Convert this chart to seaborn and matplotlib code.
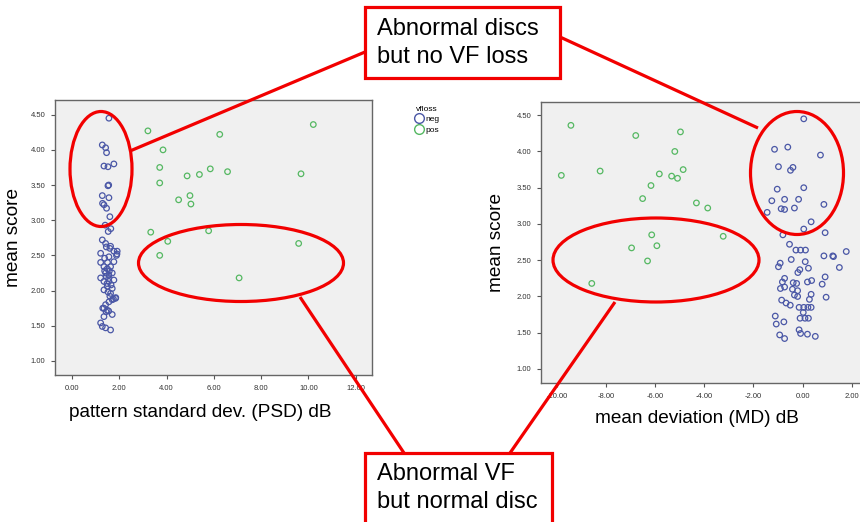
import numpy as np
import pandas as pd
import matplotlib
matplotlib.use("Agg")
import matplotlib.pyplot as plt
import seaborn as sns
from matplotlib.patches import Ellipse, Rectangle
from matplotlib.lines import Line2D

# ---- data ----
# left panel: pattern standard deviation vs mean score
psd_neg = [1.56, 1.28, 1.42, 1.46, 1.35, 1.52, 1.77, 1.52, 1.55, 1.28, 1.56, 1.35, 1.46, 1.29,
           1.60, 1.40, 1.64, 1.53,
           1.28, 1.42, 1.63, 1.77, 1.91, 1.21, 1.38, 1.56, 1.77, 1.21, 1.35, 1.49, 1.63, 1.42,
           1.56, 1.70, 1.21, 1.35, 1.56, 1.77, 1.49, 1.70, 1.35, 1.63, 1.84, 1.70, 1.56, 1.42,
           1.35, 1.49, 1.70, 1.35, 1.21, 1.28, 1.42, 1.63,
           1.90, 1.88, 1.45, 1.60, 1.50, 1.45, 1.55, 1.65, 1.52, 1.60, 1.75, 1.44, 1.55, 1.30,
           1.38, 1.58, 1.48, 1.85]
score_psd_neg = [4.45, 4.07, 4.03, 3.96, 3.77, 3.76, 3.80, 3.49, 3.50, 3.35, 3.32, 3.22, 3.17, 3.24,
                 3.05, 2.93, 2.88, 2.84,
                 2.72, 2.67, 2.63, 2.56, 2.56, 2.53, 2.46, 2.48, 2.41, 2.40, 2.34, 2.31, 2.34, 2.25,
                 2.22, 2.25, 2.18, 2.13, 2.13, 2.15, 2.06, 2.03, 2.01, 1.96, 1.89, 1.87, 1.84, 1.80,
                 1.75, 1.72, 1.66, 1.63, 1.54, 1.49, 1.47, 1.44,
                 2.52, 2.50, 2.62, 2.60, 2.40, 2.20, 2.17, 2.08, 1.98, 1.92, 1.88, 1.70, 1.71, 1.75,
                 2.28, 2.28, 2.10, 1.90]
psd_pos = [3.21, 6.25, 10.21, 3.85, 3.71, 5.85, 6.58, 5.39, 4.87, 9.69, 3.71, 4.51, 4.99, 5.03,
           3.33, 5.78, 4.05, 9.59, 3.71, 7.07]
score_psd_pos = [4.27, 4.22, 4.36, 4.00, 3.75, 3.73, 3.69, 3.65, 3.63, 3.66, 3.53, 3.29, 3.35, 3.23,
                 2.83, 2.85, 2.70, 2.67, 2.50, 2.18]

# right panel: mean deviation vs mean score
md_neg = [0.05, -1.14, -0.60, 0.73, -0.98, -0.49, -0.39, -1.03, 0.05, -1.25, -0.73, -0.16, 0.87,
          -1.44, -0.87, -0.73, -0.33, 0.35, 0.05,
          0.92, -0.80, -0.53, -0.27, -0.08, 0.12, 0.87, 1.23, 1.26, 1.78, -0.46, 0.11, -0.91, -0.98,
          -0.11, -0.19, 0.24, 1.50, 0.92, -0.73, -0.82, -0.38, -0.24, 0.20, 0.37, 0.80, -0.90, -0.73,
          -0.41, -0.20, 0.35, -0.33, -0.20, 0.96, 0.28, -0.85, -0.67, -0.50, -0.14, 0.05, 0.22, 0.35,
          0.03, -0.10, 0.10, 0.24, -1.11, -1.07, -0.76, -0.14, -0.08, 0.20, 0.52, -0.93, -0.73]
score_md_neg = [4.45, 4.03, 4.06, 3.95, 3.79, 3.74, 3.78, 3.48, 3.50, 3.32, 3.34, 3.34, 3.27,
                3.16, 3.21, 3.20, 3.22, 3.03, 2.93,
                2.88, 2.85, 2.72, 2.64, 2.64, 2.64, 2.56, 2.56, 2.55, 2.62, 2.51, 2.48, 2.46, 2.41,
                2.37, 2.33, 2.39, 2.40, 2.27, 2.25, 2.20, 2.19, 2.18, 2.20, 2.22, 2.17, 2.11, 2.13,
                2.10, 2.08, 2.03, 2.02, 2.00, 1.99, 1.96, 1.95, 1.91, 1.88, 1.85, 1.85, 1.85, 1.85,
                1.78, 1.70, 1.70, 1.70, 1.73, 1.62, 1.65, 1.54, 1.49, 1.48, 1.45, 1.47, 1.42]
md_pos = [-9.43, -9.82, -6.79, -4.97, -5.20, -8.24, -4.86, -5.83, -5.33, -5.09, -6.17, -6.51,
          -4.32, -3.86, -6.14, -3.23, -5.93, -6.96, -6.31, -8.58]
score_md_pos = [4.36, 3.67, 4.22, 4.27, 4.00, 3.73, 3.75, 3.69, 3.66, 3.63, 3.53, 3.35,
                3.29, 3.22, 2.85, 2.83, 2.70, 2.67, 2.49, 2.18]

groups = ['neg', 'pos']
colors = {'neg': '#4a57a6', 'pos': '#55b862'}
yticks = [1.0, 1.5, 2.0, 2.5, 3.0, 3.5, 4.0, 4.5]
psd_ticks = [0, 2, 4, 6, 8, 10, 12]
md_ticks = [-10, -8, -6, -4, -2, 0, 2]

left = pd.DataFrame({'x': psd_neg + psd_pos, 'score': score_psd_neg + score_psd_pos,
                     'vfloss': ['neg'] * len(psd_neg) + ['pos'] * len(psd_pos)})
right = pd.DataFrame({'x': md_neg + md_pos, 'score': score_md_neg + score_md_pos,
                      'vfloss': ['neg'] * len(md_neg) + ['pos'] * len(md_pos)})

sns.set_style('white')
plt.rcParams['font.family'] = ['Liberation Sans', 'DejaVu Sans']
plt.rcParams['text.color'] = 'black'
plt.rcParams['axes.labelcolor'] = 'black'

fig = plt.figure(figsize=(8.6, 5.22), dpi=100)
ax1 = fig.add_axes([0.064, 0.2816, 0.369, 0.527])
ax2 = fig.add_axes([0.629, 0.2663, 0.391, 0.538])


def spss_scatter(ax, df, xlim, ylim, xticks, xlabel, xlab_pos, ylab_x):
    sns.scatterplot(data=df, x='x', y='score', hue='vfloss', hue_order=groups,
                    palette=colors, s=16, legend=False, ax=ax)
    # hollow circles like SPSS
    coll = ax.collections[0]
    coll.set_edgecolors(coll.get_facecolors())
    coll.set_facecolors('none')
    coll.set_linewidths(0.9)
    ax.set_facecolor('#f0f0f0')
    ax.set_xlim(*xlim)
    ax.set_ylim(*ylim)
    ax.set_xticks(xticks)
    ax.set_yticks(yticks)
    ax.set_xticklabels([f'{t:.2f}' for t in xticks])
    ax.set_yticklabels([f'{t:.2f}' for t in yticks])
    ax.tick_params(axis='both', direction='out', length=3, width=0.8, color='#555555',
                   labelsize=5.5, labelcolor='#333333', pad=4, bottom=True, left=True)
    for sp in ax.spines.values():
        sp.set_color('#666666')
        sp.set_linewidth(1.0)
    ax.set_xlabel(xlabel, fontsize=13.7)
    ax.set_ylabel('mean score', fontsize=13.7)
    ax.xaxis.set_label_coords(*xlab_pos)
    ax.yaxis.set_label_coords(ylab_x, 0.5)


spss_scatter(ax1, left, (-0.72, 12.71), (0.80, 4.71), psd_ticks,
             'pattern standard dev. (PSD) dB', (0.457, -0.105), -0.104)
spss_scatter(ax2, right, (-10.65, 3.04), (0.807, 4.68), md_ticks,
             'mean deviation (MD) dB', (0.464, -0.096), -0.107)

# legend between the panels
handles = [Line2D([], [], marker='o', linestyle='none', markerfacecolor='none',
                  markeredgecolor=colors[g], markersize=7, markeredgewidth=1.0) for g in groups]
fig.legend(handles, groups, title='vfloss', loc='upper left',
           bbox_to_anchor=(408 / 860, 1 - 100 / 522), frameon=False, fontsize=6,
           title_fontsize=6, handletextpad=0.2, labelspacing=0.3, borderpad=0.2,
           handlelength=1.2)

# red call-outs drawn over the whole figure in pixel units
ov = fig.add_axes([0, 0, 1, 1], zorder=10)
ov.set_xlim(0, 860)
ov.set_ylim(522, 0)
ov.axis('off')
ov.patch.set_alpha(0)

red = '#f20000'
for cx, cy, w, h in [(101, 169, 62, 115), (241, 263, 205, 77),
                     (797, 173, 93, 123), (656, 260, 206, 84)]:
    ov.add_patch(Ellipse((cx, cy), w, h, fill=False, ec=red, lw=2.3))

for (x0, y0), (x1, y1) in [((130, 151), (365, 52)), ((560, 37), (758, 128)),
                           ((300, 297), (404, 453)), ((615, 302), (510, 453))]:
    ov.plot([x0, x1], [y0, y1], color=red, lw=2.3, solid_capstyle='butt')

ov.add_patch(Rectangle((365, 7), 195, 71, fc='white', ec=red, lw=2.3, zorder=5))
ov.text(377, 43, 'Abnormal discs\nbut no VF loss', fontsize=17, va='center', ha='left',
        linespacing=1.35, zorder=6)
ov.add_patch(Rectangle((365, 453), 187, 80, fc='white', ec=red, lw=2.3, zorder=5))
ov.text(377, 488, 'Abnormal VF\nbut normal disc', fontsize=17, va='center', ha='left',
        linespacing=1.35, zorder=6)

fig.savefig('out.png', dpi=100)
